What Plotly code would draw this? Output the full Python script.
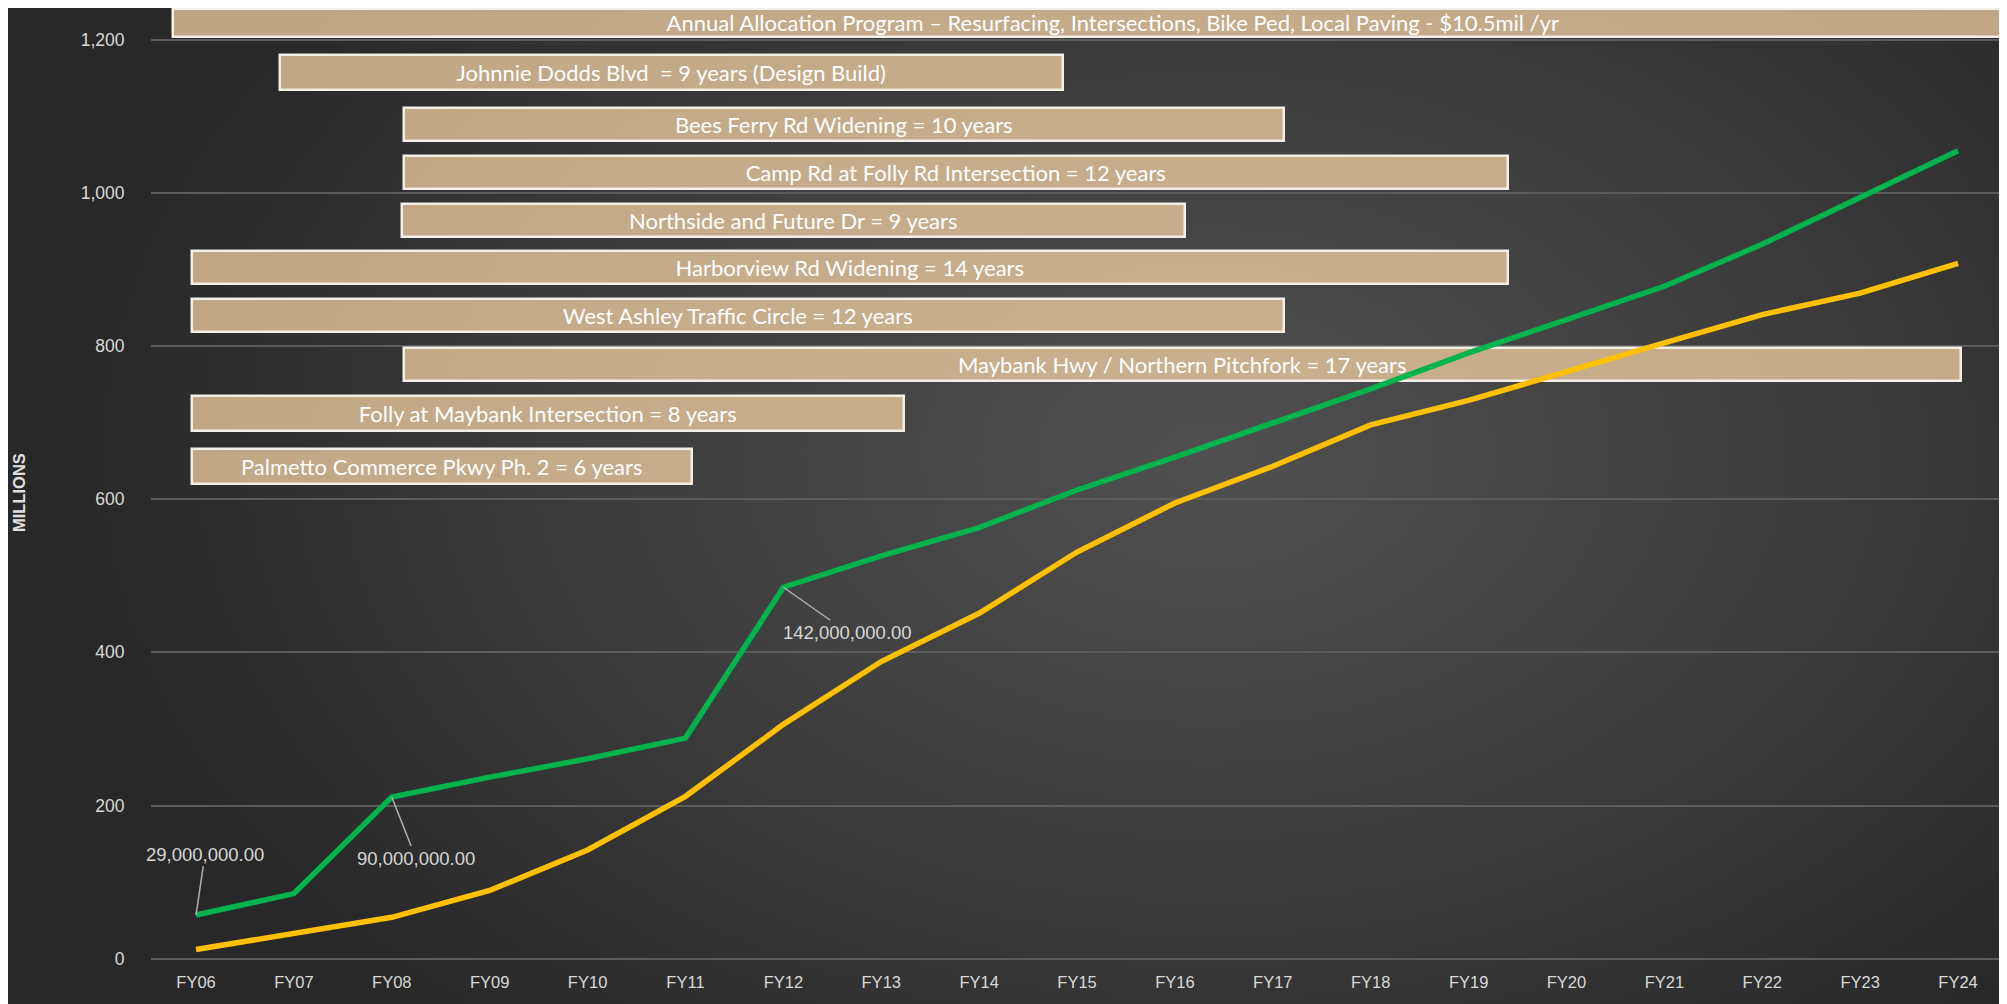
import base64
import plotly.graph_objects as go

years = ["FY06", "FY07", "FY08", "FY09", "FY10", "FY11", "FY12", "FY13", "FY14", "FY15",
         "FY16", "FY17", "FY18", "FY19", "FY20", "FY21", "FY22", "FY23", "FY24"]
green_vals = [57, 85, 211, 237, 261, 288, 485, 526, 563, 612, 655, 700, 744, 791, 834,
              878, 933, 994, 1055]
yellow_vals = [12, 33, 54, 89, 142, 212, 306, 388, 451, 531, 595, 643, 697, 729, 767,
               804, 841, 869, 908]

# project timeline boxes (start / end in year-index units, centre in millions)
proj_names = [
    "Annual Allocation Program \u2013 Resurfacing, Intersections, Bike Ped, Local Paving - $10.5mil /yr",
    "Johnnie Dodds Blvd  = 9 years (Design Build)",
    "Bees Ferry Rd Widening = 10 years",
    "Camp Rd at Folly Rd Intersection = 12 years",
    "Northside and Future Dr = 9 years",
    "Harborview Rd Widening = 14 years",
    "West Ashley Traffic Circle = 12 years",
    "Maybank Hwy / Northern Pitchfork = 17 years",
    "Folly at Maybank Intersection = 8 years",
    "Palmetto Commerce Pkwy Ph. 2 = 6 years",
]
proj_start = [-0.24, 0.86, 2.12, 2.12, 2.10, -0.04, -0.04, 2.12, -0.04, -0.04]
proj_end = [18.97, 8.86, 11.11, 13.40, 10.10, 13.40, 11.11, 18.03, 7.23, 5.07]
proj_center = [1222, 1157, 1089, 1026, 964, 902, 840, 776, 712, 643]
proj_height = [37, 45, 43, 43, 44, 43, 43, 43, 45, 46]

callout_idx = [0, 2, 6]
callout_text = ["29,000,000.00", "90,000,000.00", "142,000,000.00"]

OFF = 8  # page body margin
W, H = 2007 - OFF, 1004 - OFF
ML, MR, MT, MB = 143, 0, 0, 34
plot_w = W - ML - MR
plot_h = H - MT - MB

svg = f'''<svg xmlns="http://www.w3.org/2000/svg" width="{W}" height="{H}" viewBox="0 0 {W} {H}" preserveAspectRatio="none">
<defs><radialGradient id="g" cx="0.6" cy="0.45" r="0.75" gradientTransform="translate(0.6 0.45) scale(0.75 1) translate(-0.6 -0.45)">
<stop offset="0" stop-color="#505050"/><stop offset="0.5" stop-color="#3e3e3e"/><stop offset="1" stop-color="#282828"/>
</radialGradient></defs><rect width="{W}" height="{H}" fill="url(#g)"/></svg>'''
bg_src = "data:image/svg+xml;base64," + base64.b64encode(svg.encode()).decode()

fig = go.Figure()

xs = list(range(len(years)))

fig.add_trace(go.Scatter(x=xs, y=yellow_vals, mode="lines",
                         line=dict(color="#ffc000", width=5.5), showlegend=False))
fig.add_trace(go.Scatter(x=xs, y=green_vals, mode="lines",
                         line=dict(color="#00b34d", width=5.5), showlegend=False))

fig.add_trace(go.Bar(
    orientation="h",
    y=proj_center,
    base=proj_start,
    x=[e - s for s, e in zip(proj_start, proj_end)],
    width=proj_height,
    text=proj_names,
    textposition="inside",
    insidetextanchor="middle",
    constraintext="none",
    textfont=dict(family="Lato", size=22, color="white"),
    marker=dict(color="rgba(240,206,162,0.76)", line=dict(color="#f2eee8", width=2.5)),
    hoverinfo="skip",
    showlegend=False,
    cliponaxis=True,
))

offsets = [(9, -61), (24, 61), (64, 45)]
for i, t, (ax, ay) in zip(callout_idx, callout_text, offsets):
    fig.add_annotation(x=i, y=green_vals[i], text=t, showarrow=True, arrowhead=0,
                       arrowwidth=1.5, arrowcolor="#b0b0b0", ax=ax, ay=ay,
                       font=dict(family="Liberation Sans, Arial", size=18.5, color="#d6d6d6"),
                       standoff=0)

fig.add_annotation(xref="paper", yref="paper", x=-(ML - 11) / plot_w, y=1 - (485 - MT) / plot_h,
                   xanchor="center", yanchor="middle",
                   text="<b>MILLIONS</b>", textangle=-90, showarrow=False,
                   font=dict(family="Liberation Sans, Arial", size=16.5, color="#e0e0e0"))

fig.add_layout_image(dict(source=bg_src, xref="paper", yref="paper",
                          x=-ML / plot_w, y=1 + MT / plot_h, sizex=W / plot_w, sizey=H / plot_h,
                          xanchor="left", yanchor="top", sizing="stretch", layer="below"))

fig.update_layout(
    width=W, height=H,
    margin=dict(l=ML, r=MR, t=MT, b=MB),
    paper_bgcolor="#333333",
    plot_bgcolor="rgba(0,0,0,0)",
    bargap=0,
    xaxis=dict(range=[-0.46, 18.5], tickmode="array", tickvals=xs, ticktext=years,
               showgrid=False, zeroline=False, showline=False,
               tickfont=dict(family="Liberation Sans, Arial", size=16.5, color="#d9d9d9")),
    yaxis=dict(range=[-14.8, 1241.4], tickmode="array", tickvals=[0, 200, 400, 600, 800, 1000, 1200],
               ticktext=["0", "200", "400", "600", "800", "1,000", "1,200"],
               showgrid=True, gridcolor="#5c5c5c", gridwidth=1.5, zeroline=False, showline=False,
               ticks="outside", ticklen=22, tickcolor="rgba(0,0,0,0)",
               tickfont=dict(family="Liberation Sans, Arial", size=17.5, color="#d9d9d9")),
)

fig.write_html("out.html")
